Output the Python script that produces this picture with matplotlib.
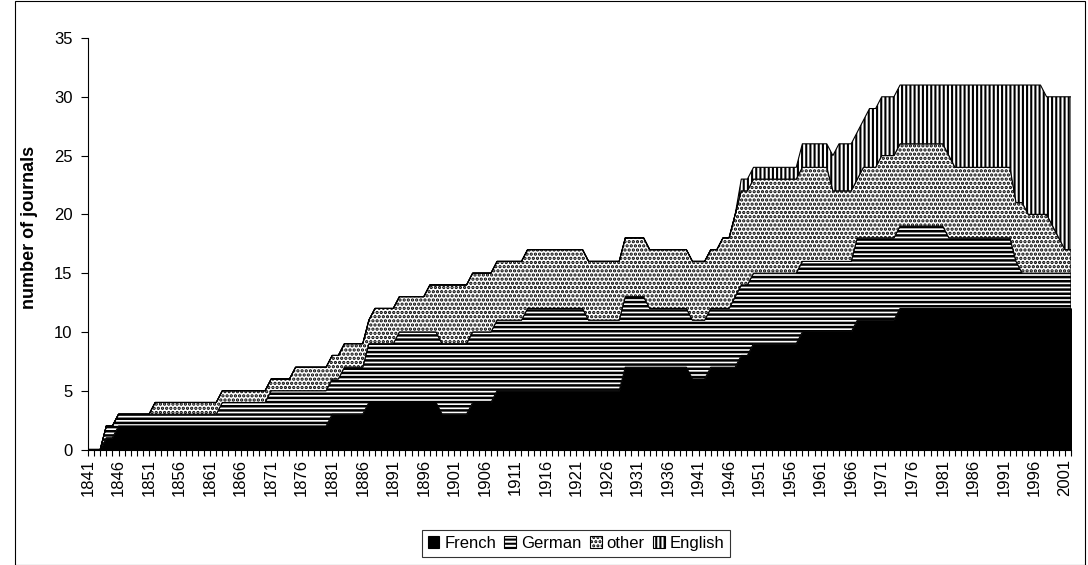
import matplotlib
matplotlib.use("Agg")
import matplotlib.pyplot as plt
import numpy as np
from matplotlib.patches import Patch, Rectangle

plt.rcParams['font.family'] = ['Liberation Sans', 'DejaVu Sans']

years = list(range(1841, 2003))

french = [
    0, 0, 0, 1, 1, 2, 2, 2, 2, 2,          # 1841-1850
    2, 2, 2, 2, 2, 2, 2, 2, 2, 2,          # 1851-1860
    2, 2, 2, 2, 2, 2, 2, 2, 2, 2,          # 1861-1870
    2, 2, 2, 2, 2, 2, 2, 2, 2, 2,          # 1871-1880
    3, 3, 3, 3, 3, 3, 4, 4, 4, 4,          # 1881-1890
    4, 4, 4, 4, 4, 4, 4, 4, 3, 3,          # 1891-1900
    3, 3, 3, 4, 4, 4, 4, 5, 5, 5,          # 1901-1910
    5, 5, 5, 5, 5, 5, 5, 5, 5, 5,          # 1911-1920
    5, 5, 5, 5, 5, 5, 5, 5, 7, 7,          # 1921-1930
    7, 7, 7, 7, 7, 7, 7, 7, 7, 6,          # 1931-1940
    6, 6, 7, 7, 7, 7, 7, 8, 8, 9,          # 1941-1950
    9, 9, 9, 9, 9, 9, 9, 10, 10, 10,       # 1951-1960
    10, 10, 10, 10, 10, 10, 11, 11, 11, 11,  # 1961-1970
    11, 11, 11, 12, 12, 12, 12, 12, 12, 12,  # 1971-1980
    12, 12, 12, 12, 12, 12, 12, 12, 12, 12,  # 1981-1990
    12, 12, 12, 12, 12, 12, 12, 12, 12, 12,  # 1991-2000
    12, 12,                                  # 2001-2002
]

german = [
    0, 0, 0, 1, 1, 1, 1, 1, 1, 1,          # 1841-1850
    1, 1, 1, 1, 1, 1, 1, 1, 1, 1,          # 1851-1860
    1, 1, 2, 2, 2, 2, 2, 2, 2, 2,          # 1861-1870
    3, 3, 3, 3, 3, 3, 3, 3, 3, 3,          # 1871-1880
    3, 3, 4, 4, 4, 4, 5, 5, 5, 5,          # 1881-1890
    5, 6, 6, 6, 6, 6, 6, 6, 6, 6,          # 1891-1900
    6, 6, 6, 6, 6, 6, 6, 6, 6, 6,          # 1901-1910
    6, 6, 7, 7, 7, 7, 7, 7, 7, 7,          # 1911-1920
    7, 7, 6, 6, 6, 6, 6, 6, 6, 6,          # 1921-1930
    6, 6, 5, 5, 5, 5, 5, 5, 5, 5,          # 1931-1940
    5, 5, 5, 5, 5, 5, 6, 6, 6, 6,          # 1941-1950
    6, 6, 6, 6, 6, 6, 6, 6, 6, 6,          # 1951-1960
    6, 6, 6, 6, 6, 6, 7, 7, 7, 7,          # 1961-1970
    7, 7, 7, 7, 7, 7, 7, 7, 7, 7,          # 1971-1980
    7, 6, 6, 6, 6, 6, 6, 6, 6, 6,          # 1981-1990
    6, 6, 4, 3, 3, 3, 3, 3, 3, 3,          # 1991-2000
    3, 3,                                  # 2001-2002
]

other = [
    0, 0, 0, 0, 0, 0, 0, 0, 0, 0,          # 1841-1850
    0, 1, 1, 1, 1, 1, 1, 1, 1, 1,          # 1851-1860
    1, 1, 1, 1, 1, 1, 1, 1, 1, 1,          # 1861-1870
    1, 1, 1, 1, 2, 2, 2, 2, 2, 2,          # 1871-1880
    2, 2, 2, 2, 2, 2, 2, 3, 3, 3,          # 1881-1890
    3, 3, 3, 3, 3, 3, 4, 4, 5, 5,          # 1891-1900
    5, 5, 5, 5, 5, 5, 5, 5, 5, 5,          # 1901-1910
    5, 5, 5, 5, 5, 5, 5, 5, 5, 5,          # 1911-1920
    5, 5, 5, 5, 5, 5, 5, 5, 5, 5,          # 1921-1930
    5, 5, 5, 5, 5, 5, 5, 5, 5, 5,          # 1931-1940
    5, 5, 5, 5, 6, 6, 7, 8, 8, 8,          # 1941-1950
    8, 8, 8, 8, 8, 8, 8, 8, 8, 8,          # 1951-1960
    8, 8, 6, 6, 6, 6, 5, 6, 6, 6,          # 1961-1970
    7, 7, 7, 7, 7, 7, 7, 7, 7, 7,          # 1971-1980
    7, 7, 6, 6, 6, 6, 6, 6, 6, 6,          # 1981-1990
    6, 6, 5, 6, 5, 5, 5, 5, 4, 3,          # 1991-2000
    2, 2,                                  # 2001-2002
]

english = [
    0, 0, 0, 0, 0, 0, 0, 0, 0, 0,          # 1841-1850
    0, 0, 0, 0, 0, 0, 0, 0, 0, 0,          # 1851-1860
    0, 0, 0, 0, 0, 0, 0, 0, 0, 0,          # 1861-1870
    0, 0, 0, 0, 0, 0, 0, 0, 0, 0,          # 1871-1880
    0, 0, 0, 0, 0, 0, 0, 0, 0, 0,          # 1881-1890
    0, 0, 0, 0, 0, 0, 0, 0, 0, 0,          # 1891-1900
    0, 0, 0, 0, 0, 0, 0, 0, 0, 0,          # 1901-1910
    0, 0, 0, 0, 0, 0, 0, 0, 0, 0,          # 1911-1920
    0, 0, 0, 0, 0, 0, 0, 0, 0, 0,          # 1921-1930
    0, 0, 0, 0, 0, 0, 0, 0, 0, 0,          # 1931-1940
    0, 0, 0, 0, 0, 0, 0, 1, 1, 1,          # 1941-1950
    1, 1, 1, 1, 1, 1, 1, 2, 2, 2,          # 1951-1960
    2, 2, 3, 4, 4, 4, 4, 4, 5, 5,          # 1961-1970
    5, 5, 5, 5, 5, 5, 5, 5, 5, 5,          # 1971-1980
    5, 6, 7, 7, 7, 7, 7, 7, 7, 7,          # 1981-1990
    7, 7, 10, 10, 11, 11, 11, 10, 11, 12,  # 1991-2000
    13, 13,                                # 2001-2002
]

series_names = ["French", "German", "other", "English"]
y_ticks = [0, 5, 10, 15, 20, 25, 30, 35]
x_label_years = list(range(1841, 2002, 5))

W, H = 1088, 565
FS = 12
fig = plt.figure(figsize=(W / 100, H / 100), dpi=100)
fig.patch.set_facecolor('white')

# outer chart border
fig.patches.append(Rectangle((15 / W, 0.5 / H), (1085 - 15) / W, (H - 1.5) / H,
                             transform=fig.transFigure, fill=False,
                             edgecolor='black', linewidth=0.8))

ax = fig.add_axes([88 / W, 1 - 449.5 / H, (1071 - 88) / W, (449.5 - 38) / H])
ax.set_facecolor('white')

x = np.array(years, dtype=float)
f = np.array(french, dtype=float)
g = np.array(german, dtype=float)
o = np.array(other, dtype=float)
e = np.array(english, dtype=float)

c1 = f
c2 = c1 + g
c3 = c2 + o
c4 = c3 + e

lw = 0.8
plt.rcParams['hatch.linewidth'] = 1.8
ax.fill_between(x, 0, c1, facecolor='black', edgecolor='black', linewidth=lw)
ax.fill_between(x, c1, c2, facecolor='white', edgecolor='black', hatch='----', linewidth=lw)
plt.rcParams['hatch.linewidth'] = 1.6
ax.fill_between(x, c2, c3, facecolor='white', edgecolor='black', hatch='....', linewidth=lw)
plt.rcParams['hatch.linewidth'] = 1.5
ax.fill_between(x, c3, c4, facecolor='white', edgecolor='black', hatch='||||', linewidth=lw)

ax.set_xlim(years[0], years[-1])
ax.set_ylim(0, 35)
ax.set_yticks(y_ticks)
ax.set_yticklabels([str(v) for v in y_ticks], fontsize=FS)
ax.set_xticks(x_label_years)
ax.set_xticklabels([str(v) for v in x_label_years], rotation=90, fontsize=FS)
ax.set_xticks(years, minor=True)
ax.tick_params(axis='x', which='both', direction='out', length=4, width=0.8, pad=3)
ax.tick_params(axis='y', which='both', direction='out', length=5, width=0.8, pad=6)

for s in ['top', 'right']:
    ax.spines[s].set_visible(False)
for s in ['left', 'bottom']:
    ax.spines[s].set_linewidth(0.8)
    ax.spines[s].set_color('black')

ax.set_ylabel("number of journals", fontsize=13, fontweight='bold')
ax.yaxis.set_label_coords((38 - 88) / 983, 0.54)

handles = [
    Patch(facecolor='black', edgecolor='black', linewidth=0.8),
    Patch(facecolor='white', edgecolor='black', hatch='----', linewidth=0.8),
    Patch(facecolor='white', edgecolor='black', hatch='....', linewidth=0.8),
    Patch(facecolor='white', edgecolor='black', hatch='||||', linewidth=0.8),
]
leg = fig.legend(handles, series_names, loc='center', ncol=4,
                 bbox_to_anchor=(576 / W, 1 - 543.5 / H), fontsize=FS,
                 frameon=True, fancybox=False, shadow=False,
                 handlelength=0.7, handleheight=0.7, handletextpad=0.3,
                 columnspacing=0.5, borderpad=0.35, borderaxespad=0)
leg.get_frame().set_edgecolor('black')
leg.get_frame().set_linewidth(0.8)

fig.savefig("out.png", dpi=100, facecolor='white')
